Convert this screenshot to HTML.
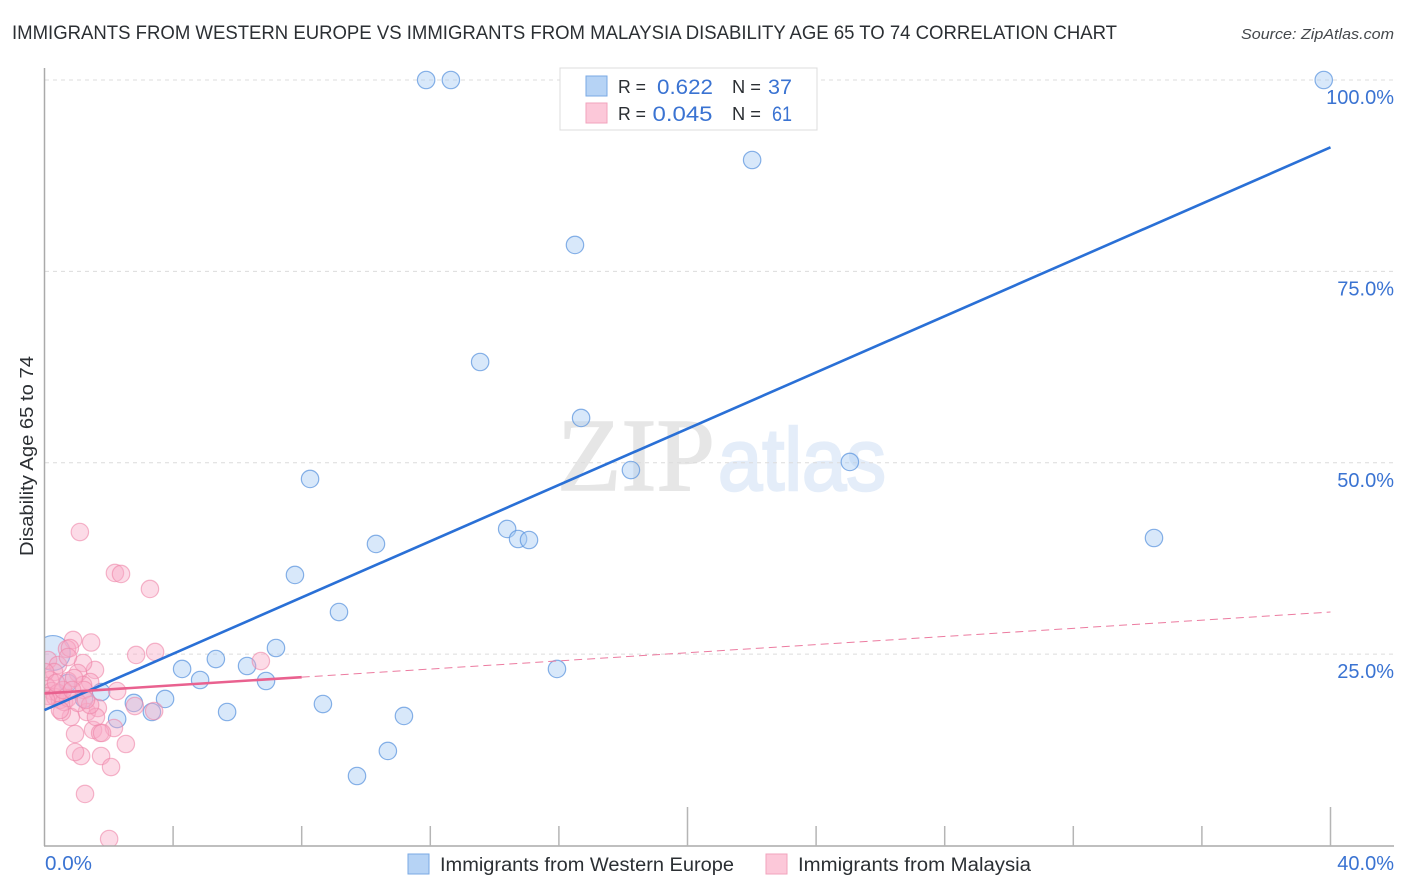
<!DOCTYPE html>
<html>
<head>
<meta charset="utf-8">
<title>Correlation chart</title>
<style>
html,body{margin:0;padding:0;background:#fff;}
svg{display:block;font-family:"Liberation Sans",sans-serif;}
</style>
</head>
<body>
<svg id="chart" xmlns="http://www.w3.org/2000/svg" width="1406" height="892" viewBox="0 0 1406 892">
  <defs>
    <clipPath id="plot-clip"><rect x="45" y="60" width="1349" height="786"/></clipPath>
  </defs>
  <text x="12" y="39" font-size="19" fill="#2b2f33" textLength="1105" lengthAdjust="spacingAndGlyphs">IMMIGRANTS FROM WESTERN EUROPE VS IMMIGRANTS FROM MALAYSIA DISABILITY AGE 65 TO 74 CORRELATION CHART</text>
  <text x="1241" y="39" font-size="15" font-style="italic" fill="#44484c" textLength="153" lengthAdjust="spacingAndGlyphs">Source: ZipAtlas.com</text>

  <g id="watermark">
    <text x="557" y="490" font-family="'Liberation Serif',serif" font-size="104" fill="#e6e6e6" stroke="#e6e6e6" stroke-width="1.5" textLength="158" lengthAdjust="spacingAndGlyphs">ZIP</text>
    <text x="718" y="490" font-size="88" fill="#e4edf9" stroke="#e4edf9" stroke-width="2.5" textLength="168" lengthAdjust="spacingAndGlyphs">atlas</text>
  </g>

  <g id="grid"></g>
  <g id="blue-points" clip-path="url(#plot-clip)"></g>
  <g id="pink-points" clip-path="url(#plot-clip)"></g>
  <rect x="0" y="60" width="44" height="800" fill="#fff"/>
  <g id="axes"></g>
  <g id="trends"></g>
  <g id="labels"></g>

  <text transform="translate(33,456) rotate(-90)" text-anchor="middle" font-size="18" fill="#2b2f33" textLength="200" lengthAdjust="spacingAndGlyphs">Disability Age 65 to 74</text>

  <g>
    <rect x="560" y="68" width="257" height="62" fill="#fff" stroke="#dcdcdc" stroke-width="1"/>
    <rect x="586" y="76" width="21" height="20" fill="#b6d3f5" stroke="#7aa9e4"/>
    <rect x="586" y="103" width="21" height="20" fill="#fcc8d9" stroke="#f2a3bd"/>
    <text x="618" y="93" font-size="18.5" fill="#2b2f33" textLength="28" lengthAdjust="spacingAndGlyphs">R =</text>
    <text x="657" y="94" font-size="21.5" fill="#3a73d2" textLength="56" lengthAdjust="spacingAndGlyphs">0.622</text>
    <text x="732" y="93" font-size="18.5" fill="#2b2f33" textLength="29" lengthAdjust="spacingAndGlyphs">N =</text>
    <text x="768" y="94" font-size="21.5" fill="#3a73d2" textLength="24" lengthAdjust="spacingAndGlyphs">37</text>
    <text x="618" y="120" font-size="18.5" fill="#2b2f33" textLength="28" lengthAdjust="spacingAndGlyphs">R =</text>
    <text x="652.5" y="121" font-size="21.5" fill="#3a73d2" textLength="60" lengthAdjust="spacingAndGlyphs">0.045</text>
    <text x="732" y="120" font-size="18.5" fill="#2b2f33" textLength="29" lengthAdjust="spacingAndGlyphs">N =</text>
    <text x="772" y="121" font-size="21.5" fill="#3a73d2" textLength="20" lengthAdjust="spacingAndGlyphs">61</text>
  </g>

  <g>
    <rect x="408" y="854" width="21" height="20" fill="#b6d3f5" stroke="#7aa9e4"/>
    <text x="440" y="871" font-size="19" fill="#2b2f33" textLength="294" lengthAdjust="spacingAndGlyphs">Immigrants from Western Europe</text>
    <rect x="766" y="854" width="21" height="20" fill="#fcc8d9" stroke="#f2a3bd"/>
    <text x="798" y="871" font-size="19" fill="#2b2f33" textLength="233" lengthAdjust="spacingAndGlyphs">Immigrants from Malaysia</text>
  </g>
</svg>
<script>
const yTickValues = [25, 50, 75, 100];
const yTickLabels = ["25.0%", "50.0%", "75.0%", "100.0%"];
const xTickValues = [0, 4, 8, 12, 16, 20, 24, 28, 32, 36, 40];
const xMajorTicks = [20, 40];
const xEndLabels = ["0.0%", "40.0%"];

const blueX = [11.87,12.64,39.79,22.01,16.50,13.55,16.69,18.24,25.05,8.26,14.39,14.73,15.07,34.51,10.31,7.79,9.16,7.20,15.94,5.33,6.30,4.28,4.84,6.89,3.75,1.76,2.78,8.66,11.18,5.68,3.34,2.26,10.68,9.72,1.23,0.73,0.26];
const blueY = [100,100,100,89.55,78.45,63.16,55.85,49.05,50.10,47.88,41.35,40.04,39.91,40.17,39.39,35.34,30.50,25.80,23.06,24.36,23.45,23.06,21.62,21.49,19.14,20.05,18.62,18.48,16.92,17.44,17.44,16.52,12.35,9.08,19.14,21.23,25.15];
const blueWeight = [1,1,1,1,1,1,1,1,1,1,1,1,1,1,1,1,1,1,1,1,1,1,1,1,1,1,1,1,1,1,1,1,1,1,1,1,4];

const pinkX = [1.10,2.19,2.38,3.28,0.89,1.45,2.85,3.44,6.73,2.26,2.81,3.41,2.16,2.53,1.76,2.07,1.26,2.01,1.14,0.95,0.95,1.51,1.73,1.79,0.82,0.54,1.32,1.66,1.60,1.57,1.20,0.70,0.79,0.11,0.42,0.30,1.04,1.42,1.20,0.73,0.92,0.17,0.05,0.23,0.11,0.33,0.48,0.61,0.73,0.42,1.23,0.58,1.04,1.42,1.29,0.02,0.48,0.86,0.73,0.05,0.36];
const pinkY = [40.95,35.60,35.47,33.51,26.85,26.52,24.89,25.28,24.10,20.18,18.22,17.57,15.35,13.26,11.69,10.25,6.73,0.85,11.69,12.21,14.57,15.09,14.70,14.70,16.79,17.44,17.44,17.96,16.79,22.93,23.84,25.67,25.80,24.23,23.58,22.66,22.53,21.36,20.97,21.49,21.88,21.62,20.84,20.18,19.53,19.40,19.01,18.75,19.27,19.92,20.31,20.31,18.62,18.35,19.01,22.66,17.70,20.31,24.62,19.01,21.23];

const blueTrendX = [0, 40];
const blueTrendY = [17.7, 91.2];
const pinkSolidX = [0, 8];
const pinkSolidY = [19.86, 21.99];
const pinkDashX = [8, 40];
const pinkDashY = [21.99, 30.5];

function xScale(v){ return 44.5 + v * 32.15; }
function yScale(v){ return 845.5 - v * 7.655; }

const NS = "http://www.w3.org/2000/svg";
function make(tag, parentId, attrs){
  const el = document.createElementNS(NS, tag);
  for (const k in attrs) el.setAttribute(k, attrs[k]);
  document.getElementById(parentId).appendChild(el);
  return el;
}

yTickValues.forEach(function(v, i){
  const line = make("line", "grid", {x1:45, x2:1394, y1:yScale(v), y2:yScale(v), stroke:"#dcdcdc", "stroke-width":1, "stroke-dasharray":"4 4"});
  
  
  const label = make("text", "labels", {x:1394, y:yScale(v) + 24, "text-anchor":"end", "font-size":20, fill:"#3a73d2"});
  label.textContent = yTickLabels[i];
  
  
});

const yAxis = make("line", "axes", {x1:44.5, x2:44.5, y1:68, y2:846, stroke:"#aaaaaa", "stroke-width":1.5});


const xAxis = make("line", "axes", {x1:44, x2:1394, y1:846, y2:846, stroke:"#aaaaaa", "stroke-width":1.5});



xTickValues.forEach(function(v){
  if (v === 0) return;
  const top = xMajorTicks.indexOf(v) >= 0 ? 807 : 826;
  const tick = make("line", "axes", {x1:xScale(v), x2:xScale(v), y1:top, y2:846, stroke:"#b5b5b5", "stroke-width":1.5});
  
  
});

const xLabelLeft = make("text", "labels", {x:45, y:870, "font-size":20, fill:"#3a73d2", textLength:47, lengthAdjust:"spacingAndGlyphs"});
xLabelLeft.textContent = xEndLabels[0];


const xLabelRight = make("text", "labels", {x:1394, y:870, "text-anchor":"end", "font-size":20, fill:"#3a73d2"});
xLabelRight.textContent = xEndLabels[1];



blueX.forEach(function(v, i){
  const c = make("circle", "blue-points", {cx:xScale(v), cy:yScale(blueY[i]), r:8.7 * Math.sqrt(blueWeight[i]), fill:"#a9cbf3", "fill-opacity":0.45, stroke:"#5f97df", "stroke-opacity":0.75, "stroke-width":1.2});
  
  
});

pinkX.forEach(function(v, i){
  const c = make("circle", "pink-points", {cx:xScale(v), cy:yScale(pinkY[i]), r:8.7, fill:"#f9aac5", "fill-opacity":0.42, stroke:"#ee86a8", "stroke-opacity":0.6, "stroke-width":1.2});
  
  
});

const pinkDash = make("line", "trends", {x1:xScale(pinkDashX[0]), y1:yScale(pinkDashY[0]), x2:xScale(pinkDashX[1]), y2:yScale(pinkDashY[1]), stroke:"#ec7ba0", "stroke-width":1, "stroke-dasharray":"8 5"});


const blueTrend = make("line", "trends", {x1:xScale(blueTrendX[0]), y1:yScale(blueTrendY[0]), x2:xScale(blueTrendX[1]), y2:yScale(blueTrendY[1]), stroke:"#2a70d6", "stroke-width":2.6});


const pinkSolid = make("line", "trends", {x1:xScale(pinkSolidX[0]), y1:yScale(pinkSolidY[0]), x2:xScale(pinkSolidX[1]), y2:yScale(pinkSolidY[1]), stroke:"#e9618f", "stroke-width":2.6});


</script>
</body>
</html>
